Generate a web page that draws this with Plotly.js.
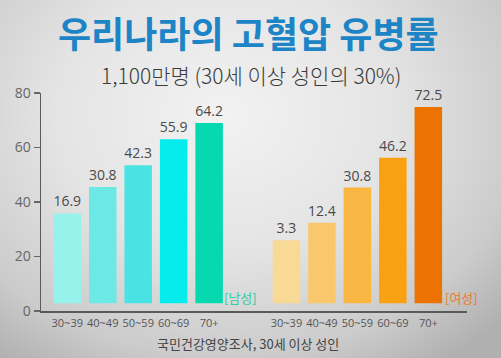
<!DOCTYPE html>
<html>
<head>
<meta charset="utf-8">
<script src="https://cdn.plot.ly/plotly-3.0.1.min.js"></script>
<style>
  html, body { margin:0; padding:0; }
  #chart { width:501px; height:358px;
    background: radial-gradient(ellipse 75% 85% at 45% 32%, #f2f2f2 0%, #e4e4e4 45%, #cbcbcb 80%, #b0b0b0 100%); }
</style>
</head>
<body>
<div id="chart"></div>
<script>
// ---- data ----
const ageGroups = ["30~39", "40~49", "50~59", "60~69", "70+"];
const maleLabels = [16.9, 30.8, 42.3, 55.9, 64.2];
const femaleLabels = [3.3, 12.4, 30.8, 46.2, 72.5];
// bar tops as drawn on the y axis of the picture
const maleBarTop = [35.8, 45.5, 53.5, 63.0, 69.0];
const femaleBarTop = [26.0, 32.4, 45.3, 56.2, 74.9];
const yTicks = [0, 20, 40, 60, 80];

// ---- styles ----
const BASE = 2.8;
const GROUP_OFFSET = 6.18;
const maleColors = ["#98f2ec", "#6ce9e5", "#4ae3e3", "#06ecec", "#06d9b0"];
const femaleColors = ["#f8d996", "#f9c86e", "#f9b642", "#f9a112", "#ec7302"];
const KR = "'Noto Sans CJK KR', 'Noto Sans', sans-serif";

const maleX = ageGroups.map((_, i) => i);
const femaleX = ageGroups.map((_, i) => i + GROUP_OFFSET);

function barTrace(x, tops, labels, colors) {
  return {
    type: "bar",
    x: x,
    y: tops.map(t => t - BASE),
    base: tops.map(() => BASE),
    width: 0.776,
    marker: { color: colors, line: { width: 0 } },
    text: labels.map(v => v.toFixed(1)),
    textposition: "outside",
    constraintext: "none",
    cliponaxis: false,
    textfont: { family: "'Open Sans', sans-serif", size: 14, color: "#4a4a4a" },
    hoverinfo: "skip",
    showlegend: false
  };
}

const data = [
  barTrace(maleX, maleBarTop, maleLabels, maleColors),
  barTrace(femaleX, femaleBarTop, femaleLabels, femaleColors)
];

const layout = {
  width: 501, height: 358,
  margin: { l: 41, r: 34.3, t: 92.7, b: 47, pad: 0 },
  paper_bgcolor: "rgba(0,0,0,0)",
  plot_bgcolor: "rgba(0,0,0,0)",
  font: { family: KR },
  xaxis: {
    range: [-0.74, 11.27],
    tickvals: maleX.concat(femaleX),
    ticktext: ageGroups.concat(ageGroups),
    ticks: "",
    ticklabelstandoff: 1,
    tickfont: { family: "'Open Sans', sans-serif", size: 11, color: "#555" },
    showgrid: false, zeroline: false,
    showline: true, linecolor: "#5a5a5a", linewidth: 1.5
  },
  yaxis: {
    range: [0, 80],
    tickvals: yTicks,
    ticks: "outside", ticklen: 6, tickcolor: "#666", tickwidth: 1.2,
    tickfont: { family: "'Open Sans', sans-serif", size: 14, color: "#666" },
    showgrid: false, zeroline: false,
    showline: true, linecolor: "#5a5a5a", linewidth: 1.5
  },
  annotations: [
    { text: "우리나라의 고혈압 유병률", xref: "paper", yref: "paper",
      x: 0.488, y: 1.28, xanchor: "center", yanchor: "middle", showarrow: false,
      font: { family: KR, size: 36, color: "#1d84c6", weight: 700 } },
    { text: "1,100만명 (30세 이상 성인의 30%)", xref: "paper", yref: "paper",
      x: 0.492, y: 1.082, xanchor: "center", yanchor: "middle", showarrow: false,
      font: { family: KR, size: 21, color: "#3a3a3a", weight: 300 } },
    { text: "국민건강영양조사, 30세 이상 성인", xref: "paper", yref: "paper",
      x: 0.486, y: -0.147, xanchor: "center", yanchor: "middle", showarrow: false,
      font: { family: KR, size: 13, color: "#444" } },
    { text: "[남성]", xref: "paper", yref: "paper",
      x: 0.4675, y: 0.06, xanchor: "center", yanchor: "middle", showarrow: false,
      font: { family: KR, size: 13, color: "#2bcfa6" } },
    { text: "[여성]", xref: "paper", yref: "paper",
      x: 0.9866, y: 0.06, xanchor: "center", yanchor: "middle", showarrow: false,
      font: { family: KR, size: 13, color: "#f07a2c" } }
  ]
};

Plotly.newPlot("chart", data, layout, { displayModeBar: false, staticPlot: true });
</script>
</body>
</html>
